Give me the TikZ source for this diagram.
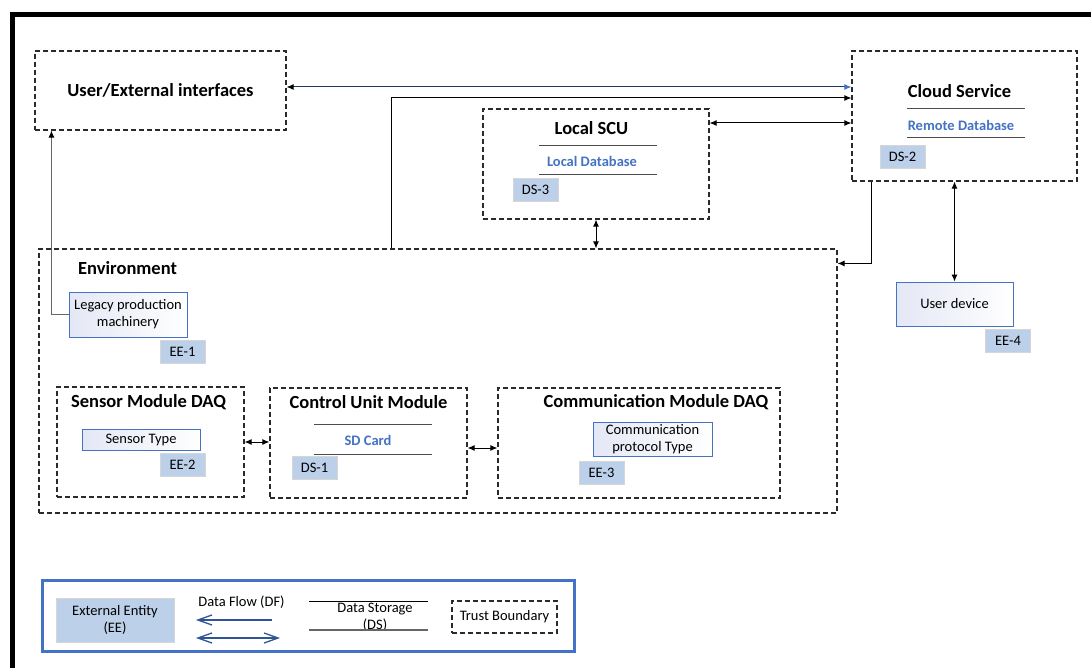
\documentclass[tikz,border=0pt]{standalone}
\usepackage{fontspec}
\setmainfont{Carlito}
\usetikzlibrary{arrows.meta,calc}
\definecolor{accblue}{HTML}{4472C4}
\definecolor{badgefill}{HTML}{BDD0E9}
\definecolor{badgeline}{HTML}{D6D6D6}
\definecolor{lav}{HTML}{E4E7F5}
\definecolor{navy}{HTML}{1F3864}
\definecolor{legarrow}{HTML}{2F5597}
\definecolor{dashcol}{HTML}{2A2A2A}
\newcommand\myfsmall{\fontsize{14.5}{17}\selectfont}
\newcommand\myfbig{\fontsize{18.5}{22}\selectfont\bfseries}
\tikzset{
  tb/.style={draw=dashcol, line width=1.1pt, dash pattern=on 5pt off 3pt, inner sep=0pt},
  ebox/.style={draw=accblue, line width=0.9pt, left color=lav, right color=white, inner sep=0pt, align=center, font=\myfsmall},
  badge/.style={fill=badgefill, draw=badgeline, line width=0.8pt, minimum width=45pt, minimum height=23pt, inner sep=0pt, font=\myfsmall},
  ttl/.style={font=\myfbig, inner sep=0pt},
  dbtext/.style={font=\myfsmall\bfseries, text=accblue, inner sep=0pt},
  dbline/.style={draw=black!70, line width=1pt},
  arr/.style={draw=black, line width=1pt, -{Latex[length=7pt,width=6pt]}},
  darr/.style={draw=black, line width=1pt, {Latex[length=7pt,width=6pt]}-{Latex[length=7pt,width=6pt]}},
  legarr/.style={draw=legarrow, line width=1.8pt},
  legtip/.tip={Straight Barb[length=14pt,width=10pt,line width=1.3pt]}
}
\begin{document}
\begin{tikzpicture}[x=1pt,y=-1pt]
\useasboundingbox (0,0) rectangle (1091,668);
\fill[white] (0,0) rectangle (1091,668);
% outer frame
\draw[line width=5pt] (10,14.5) -- (1091,14.5);
\draw[line width=5pt] (12.5,12) -- (12.5,668);

% main boxes
\node[tb, minimum width=251pt, minimum height=79pt, font=\myfbig] (uei) at (160.5,90.5) {User/External interfaces};
\node[tb, minimum width=225pt, minimum height=130pt] (cloud) at (964.5,116) {};
\node[tb, minimum width=226pt, minimum height=110pt] (scu) at (596,164) {};
\node[tb, minimum width=798pt, minimum height=264pt] (env) at (438,381) {};
\node[ebox, minimum width=117pt, minimum height=44pt] (userdev) at (954.5,304) {User device};
\node[ebox, minimum width=118pt, minimum height=45pt] (legacy) at (128,314.5) {Legacy production\\machinery};
\node[tb, minimum width=187pt, minimum height=110pt] (sensor) at (150.5,442) {};
\node[ebox, minimum width=118pt, minimum height=21pt] (sensortype) at (141,439.5) {Sensor Type};
\node[tb, minimum width=197pt, minimum height=110pt] (control) at (368.5,443) {};
\node[tb, minimum width=282pt, minimum height=110pt] (comm) at (639,443) {};
\node[ebox, minimum width=119pt, minimum height=34pt] (commproto) at (652.5,439) {Communication\\protocol Type};

% titles
\node[ttl] (cloudttl) at (959.5,91) {Cloud Service};
\node[ttl] (scuttl) at (591.5,128) {Local SCU};
\node[ttl, anchor=west] (envttl) at (78,268) {Environment};
\node[ttl] (sensorttl) at (148.5,402) {Sensor Module DAQ};
\node[ttl] (controlttl) at (368.5,402) {Control Unit Module};
\node[ttl] (commttl) at (656,402) {Communication Module DAQ};

% data storages
\draw[dbline] (907,109) -- (1025,109);
\draw[dbline] (907,138) -- (1025,138);
\node[dbtext] (remdb) at (961,125) {Remote Database};
\draw[dbline] (539,146) -- (657,146);
\draw[dbline] (539,175) -- (657,175);
\node[dbtext] (locdb) at (592,161) {Local Database};
\draw[dbline] (314,424) -- (432,424);
\draw[dbline] (314,454) -- (432,454);
\node[dbtext] (sdcard) at (368,440) {SD Card};

% badges
\node[badge] (ee1) at (182.5,351.5) {EE-1};
\node[badge] (ee2) at (182.5,465) {EE-2};
\node[badge] (ee3) at (601.5,472.5) {EE-3};
\node[badge] (ee4) at (1008,340.5) {EE-4};
\node[badge] (ds1) at (314.5,468) {DS-1};
\node[badge] (ds2) at (902.5,157) {DS-2};
\node[badge] (ds3) at (535.5,190) {DS-3};

% connectors
\coordinate (c1) at ([yshift=3.5pt]uei.east);
\draw[draw=navy, line width=1pt, {Latex[length=7pt,width=6pt,color=black]}-{Latex[length=7pt,width=6pt,color=accblue]}] (c1) -- (c1 -| cloud.west);
\coordinate (c2) at ([xshift=353pt]env.north west);
\draw[arr] (c2) |- ([yshift=18pt]cloud.west);
\coordinate (c3) at ([yshift=41pt]scu.east);
\draw[darr] (c3) -- (c3 -| cloud.west);
\draw[darr] (scu.south) -- (scu.south |- env.north);
\coordinate (c5) at ([xshift=20pt]cloud.south west);
\coordinate (c5b) at ([yshift=-15pt]env.north east);
\draw[arr] (c5) |- (c5b);
\draw[darr] (userdev.north) -- (userdev.north |- cloud.south);
\coordinate (c7) at ([xshift=17pt]uei.south west);
\draw[draw=black!60, line width=1pt, -{Latex[length=7pt,width=6pt,color=black]}] (legacy.west) -| (c7);
\draw[darr] (sensor.east) -- (sensor.east -| control.west);
\coordinate (c9) at ([yshift=-5pt]control.east);
\draw[darr] (c9) -- (c9 -| comm.west);

% legend
\node[draw=accblue, line width=3pt, minimum width=532pt, minimum height=71pt, inner sep=0pt] (legend) at (308,615.5) {};
\node[fill=badgefill, draw=badgeline, line width=0.8pt, minimum width=118pt, minimum height=44pt, inner sep=0pt, align=center, font=\myfsmall] (legee) at (115,620) {External Entity\\(EE)};
\node[font=\myfsmall, inner sep=0pt] (legdf) at (241.5,602) {Data Flow (DF)};
\coordinate (la1) at (272,620);
\coordinate (la2) at (196,620);
\draw[legarr, -{legtip}] (la1) -- (la2);
\coordinate (lb1) at (196,638);
\coordinate (lb2) at (280,638);
\draw[legarr, {legtip}-{legtip}] (lb1) -- (lb2);
\coordinate (ls1) at (309,601);
\coordinate (ls2) at (428,601);
\draw[draw=black, line width=0.9pt] (ls1) -- (ls2);
\node[font=\myfsmall, align=center, inner sep=0pt] (legds) at (375,617) {Data Storage\\(DS)};
\coordinate (ls3) at (309,630);
\coordinate (ls4) at (428,630);
\draw[draw=black!60, line width=1.6pt] (ls3) -- (ls4);
\node[tb, minimum width=105pt, minimum height=32pt, font=\myfsmall] (legtb) at (504.5,617) {Trust Boundary};
\end{tikzpicture}
\end{document}
